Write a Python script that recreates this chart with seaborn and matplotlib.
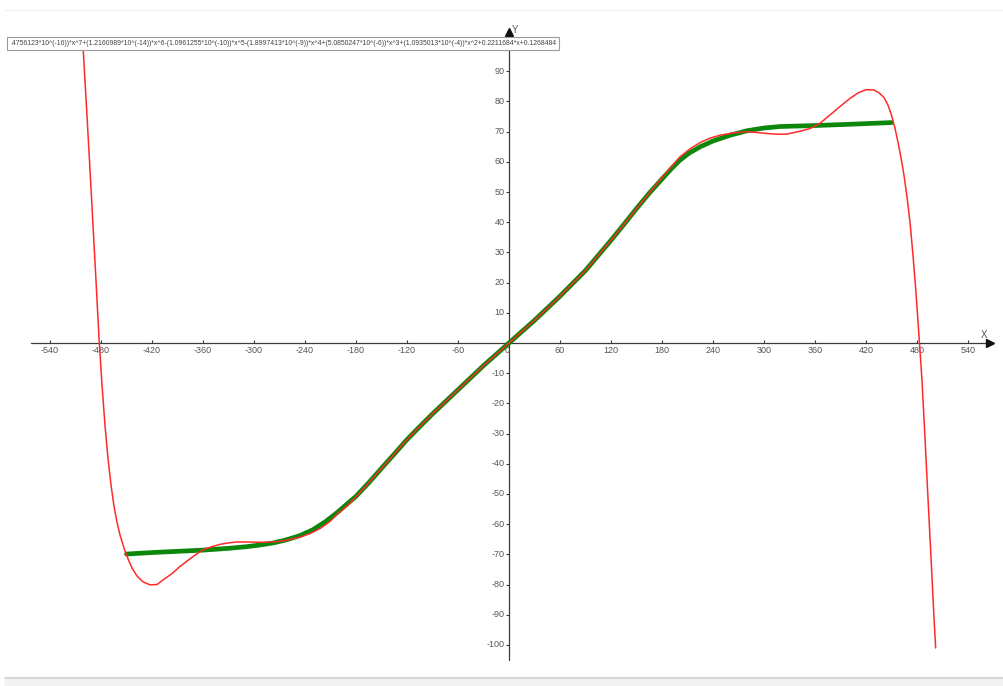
import numpy as np
import pandas as pd
import matplotlib
matplotlib.use('Agg')
import matplotlib.pyplot as plt
from matplotlib.patches import Rectangle
from matplotlib.lines import Line2D
import seaborn as sns

# ──────────────────────────────────────────────
# Data
# ──────────────────────────────────────────────
# red: fitted polynomial curve
RED_X = [-501.2, -496.5, -492.9, -489.4, -485.9, -482.4, -478.8, -475.3, -471.8, -468.2,
         -464.7, -461.2, -457.6, -452.9, -448.2, -443.5, -437.6, -430.6, -422.4, -414.1,
         -407.1, -397, -387, -380, -373, -366, -360, -350, -340, -330,
         -320, -306, -293, -281, -269, -258, -246, -234, -222, -211,
         -201, -190, -180, -165, -150, -135, -120, -105, -90, -60,
         -30, 0, 30, 60, 90, 105, 120, 135, 150, 165,
         180, 201, 213, 225, 236, 248, 264, 280, 292, 303,
         315, 327, 342, 354, 366, 377.6, 389.4, 401.2, 410.6, 420,
         429.4, 435.3, 441.2, 445.9, 450, 454.1, 457.6, 461.2, 464.7, 468.2,
         471.8, 475.3, 478.8, 482.4, 485.9, 489.4, 492.9, 496.5, 500, 502]
RED_Y = [98.7, 75.5, 57.3, 39.1, 20.9, 2.0, -13.9, -27.2, -38.1, -47.0,
         -54.0, -59.3, -63.6, -67.9, -71.5, -74.5, -77.2, -79.1, -80.1, -80.0,
         -78.5, -76.5, -74, -72.5, -71, -69.6, -68.5, -67.5, -66.7, -66.2,
         -65.9, -65.9, -66, -65.9, -65.7, -65.1, -64.3, -63.1, -61.4, -59.2,
         -56.4, -53.8, -51, -46.3, -41.5, -36.8, -32, -27.7, -23.5, -15.5,
         -7.5, 0, 7.5, 15.5, 24, 29, 34, 39.2, 44.5, 49.6,
         54.8, 61.6, 64.3, 66.4, 67.8, 68.8, 69.6, 70.0, 69.7, 69.4,
         69.15, 69.2, 70.1, 71.0, 72.8, 75.5, 78.3, 81.0, 82.8, 83.9,
         83.8, 82.9, 81.3, 78.8, 75.5, 71.2, 66.6, 61.4, 55.6, 48.6,
         40.1, 29.1, 16.9, 2.3, -12.3, -31.1, -51.0, -70.9, -90.7, -101.0]

# green: measured data
GREEN_X = [-450, -420, -390, -360, -330, -310, -293, -277, -262, -246,
           -231, -216, -201, -190, -180, -165, -150, -135, -120, -105,
           -90, -60, -30, 0, 30, 60, 90, 105, 120, 135,
           150, 165, 180, 192, 201, 212, 225, 240, 260, 280,
           300, 319, 358, 397, 450]
GREEN_Y = [-69.9, -69.4, -69.0, -68.6, -68.0, -67.5, -66.9, -66.2, -65.2, -63.8,
           -61.9, -59.2, -55.9, -53.2, -50.8, -46.3, -41.5, -36.8, -32, -27.7,
           -23.5, -15.5, -7.5, 0, 7.5, 15.5, 24, 29, 34, 39.2,
           44.5, 49.6, 54.3, 58.0, 60.5, 62.9, 65.0, 66.9, 68.8, 70.3,
           71.2, 71.7, 72.0, 72.4, 73]

X_TICKS = [-540, -480, -420, -360, -300, -240, -180, -120, -60,
           60, 120, 180, 240, 300, 360, 420, 480, 540]
Y_TICKS = [-100, -90, -80, -70, -60, -50, -40, -30, -20, -10,
           10, 20, 30, 40, 50, 60, 70, 80, 90]

FORMULA = (".4756123*10^(-16))*x^7+(1.2160989*10^(-14))*x^6-(1.0961255*10^(-10))*x^5"
           "-(1.8997413*10^(-9))*x^4+(5.0850247*10^(-6))*x^3+(1.0935013*10^(-4))*x^2"
           "+0.2211684*x+0.1268484")

AXIS_COL = '#3a3a3a'
TEXT_COL = '#555555'

sns.set_style('white')
plt.rcParams['font.family'] = ['Liberation Sans Narrow', 'Liberation Sans', 'DejaVu Sans']

fig = plt.figure(figsize=(10.04, 6.86), dpi=100)
ax = fig.add_axes([0, 0, 1, 1])
ax.set_xlim(-598.8, 582.4)
ax.set_ylim(-113.6, 113.6)
ax.axis('off')

# axes with arrows
ax.plot([-562, 563], [0, 0], color=AXIS_COL, lw=0.9, zorder=2)
ax.plot([0, 0], [-105, 101], color=AXIS_COL, lw=0.9, zorder=2)
ax.plot([566], [0], marker='>', ms=6, color='#111111', zorder=3)
ax.plot([0], [103], marker='^', ms=6, color='#111111', zorder=3)
ax.text(559, 2.6, 'X', fontsize=7, color=TEXT_COL, ha='center', va='center')
ax.text(7, 103.5, 'Y', fontsize=7, color=TEXT_COL, ha='center', va='center')

# ticks + labels
ax.vlines(X_TICKS, 0, 1.0, color=AXIS_COL, lw=0.8)
ax.hlines(Y_TICKS, -3.5, 0, color=AXIS_COL, lw=0.8)
for t in X_TICKS:
    ax.text(t, -2.6, str(t), fontsize=6.5, color=TEXT_COL, ha='center', va='center')
for t in Y_TICKS:
    ax.text(-5, t, str(t), fontsize=6.5, color=TEXT_COL, ha='right', va='center')
ax.text(-2, -2.6, '0', fontsize=6.5, color=TEXT_COL, ha='center', va='center')

# curves
sns.lineplot(x=GREEN_X, y=GREEN_Y, color='#0c870c', lw=3.4, sort=False,
             estimator=None, ax=ax, zorder=4, solid_capstyle='round')
sns.lineplot(x=RED_X, y=RED_Y, color='#ff2a2a', lw=1.1, sort=False,
             estimator=None, ax=ax, zorder=5)

# formula label box
ax.text(-587, 99.2, FORMULA, fontsize=4.95, color='#444444', ha='left', va='center',
        zorder=10, clip_on=False,
        bbox=dict(boxstyle='square,pad=0.4', fc='white', ec='#9a9a9a', lw=0.8))

# frame decoration (top faint line, bottom gray strip)
fig.add_artist(Line2D([5 / 1004, 1], [1 - 10 / 686] * 2, color='#efefef', lw=0.8,
                      transform=fig.transFigure))
fig.add_artist(Rectangle((5 / 1004, 0), 1, 9 / 686, color='#f2f2f2',
                         transform=fig.transFigure, zorder=0))
fig.add_artist(Line2D([5 / 1004, 1], [1 - 678 / 686] * 2, color='#d2d2d2', lw=1.2,
                      transform=fig.transFigure))

plt.savefig('out.png', dpi=100)
